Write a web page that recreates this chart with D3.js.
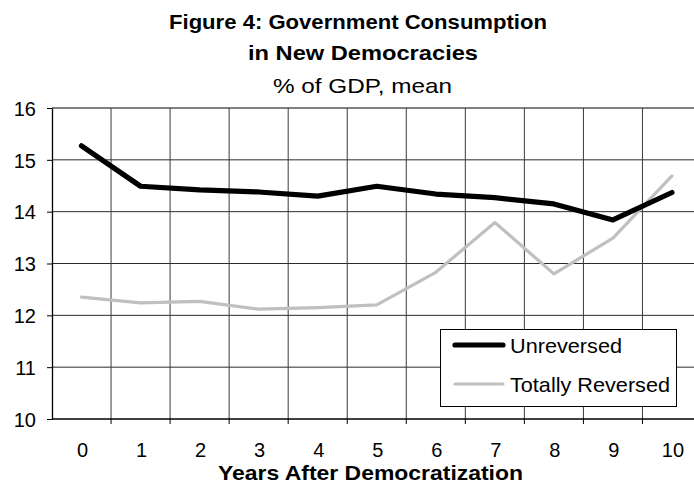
<!DOCTYPE html>
<html><head><meta charset="utf-8">
<script src="https://cdn.jsdelivr.net/npm/d3@7"></script>
<style>html,body{margin:0;padding:0;background:#fff;overflow:hidden}</style>
</head><body>
<svg id="c" width="694" height="486"></svg>
<script>
const years = [0,1,2,3,4,5,6,7,8,9,10];
const unreversed = [15.27,14.49,14.42,14.38,14.30,14.49,14.34,14.27,14.15,13.84,14.37];
const totallyReversed = [12.35,12.24,12.27,12.12,12.15,12.20,12.83,13.79,12.80,13.49,14.69];
const yTicks = [10,11,12,13,14,15,16];
const seriesNames = ["Unreversed","Totally Reversed"];

const svg = d3.select("#c");
const font = "'Liberation Sans', Arial, sans-serif";
const L = 52, R = 701.5, T = 108, B = 419;

const x = d3.scaleBand().domain(years).range([L, R]).padding(0);
const y = d3.scaleLinear().domain([10,16]).range([B, T]);

// horizontal gridlines
svg.append("g").selectAll("line").data(yTicks.filter(d=>d>10 && d<16)).join("line")
  .attr("x1", L).attr("x2", 694).attr("y1", d=>y(d)).attr("y2", d=>y(d))
  .attr("stroke", "#2a2a2a").attr("stroke-width", 1);
svg.append("line").attr("x1", L).attr("x2", 694).attr("y1", y(16)).attr("y2", y(16))
  .attr("stroke", "#808080").attr("stroke-width", 2);
// vertical gridlines at band edges
svg.append("g").selectAll("line").data(years.slice(1)).join("line")
  .attr("x1", d=>x(d)).attr("x2", d=>x(d)).attr("y1", T).attr("y2", B)
  .attr("stroke", "#3a3a3a").attr("stroke-width", 1);

// y axis
const yAxis = d3.axisLeft(y).tickValues(yTicks).tickSize(5).tickSizeOuter(0).tickFormat(d3.format("d"));
const gy = svg.append("g").attr("transform", `translate(${L},0)`).call(yAxis);
gy.select(".domain").attr("stroke", "#000").attr("stroke-width", 1.3);
gy.selectAll(".tick line").attr("stroke", "#000");
gy.selectAll(".tick text").attr("font-family", font).attr("font-size", 20).attr("fill", "#000")
  .attr("x", -16).attr("dy", "0.36em");

// x axis: ticks at band edges, labels at band centers
svg.append("line").attr("x1", L).attr("x2", 694).attr("y1", B).attr("y2", B).attr("stroke", "#000").attr("stroke-width", 1.3);
svg.append("g").selectAll("line").data(years.slice(1)).join("line")
  .attr("x1", d=>x(d)).attr("x2", d=>x(d)).attr("y1", B).attr("y2", B+5).attr("stroke", "#000");
svg.append("g").selectAll("text").data(years).join("text")
  .attr("x", d=>x(d)+x.bandwidth()/2+1).attr("y", 457)
  .attr("text-anchor", "middle").attr("font-family", font).attr("font-size", 20).attr("fill", "#000")
  .text(d=>d);

// lines
const line = d3.line().x((d,i)=>x(years[i])+x.bandwidth()/2).y(d=>y(d));
svg.append("path").datum(totallyReversed).attr("d", line).attr("fill","none")
  .attr("stroke", "#c0c0c0").attr("stroke-width", 3.2).attr("stroke-linejoin","round").attr("stroke-linecap","round");
svg.append("path").datum(unreversed).attr("d", line).attr("fill","none")
  .attr("stroke", "#000").attr("stroke-width", 5.2).attr("stroke-linejoin","round").attr("stroke-linecap","round");

// titles
function txt(str, xs, ys, size, bold, len){
  svg.append("text").attr("x", xs).attr("y", ys).attr("font-family", font)
    .attr("font-size", size).attr("font-weight", bold ? "bold" : "normal").attr("fill","#000")
    .attr("textLength", len).attr("lengthAdjust","spacingAndGlyphs").text(str);
}
txt("Figure 4: Government Consumption", 169, 29, 20, true, 378);
txt("in New Democracies", 248, 60, 20, true, 230);
txt("% of GDP, mean", 273, 93, 21, false, 179);
txt("Years After Democratization", 218, 480, 21, true, 305);

// legend
const lg = svg.append("g");
lg.append("rect").attr("x", 440.5).attr("y", 329.5).attr("width", 236).attr("height", 77)
  .attr("fill","#fff").attr("stroke","#000").attr("stroke-width",1);
const lstyles = [{c:"#000", w:5.2, len:112},{c:"#c0c0c0", w:3.2, len:160}];
seriesNames.forEach((n,i)=>{
  const yy = 345 + i*39;
  lg.append("line").attr("x1", 455).attr("x2", 503).attr("y1", yy).attr("y2", yy)
    .attr("stroke", lstyles[i].c).attr("stroke-width", lstyles[i].w).attr("stroke-linecap","round");
  lg.append("text").attr("x", 510).attr("y", yy+8).attr("font-family", font).attr("font-size", 21)
    .attr("textLength", lstyles[i].len).attr("lengthAdjust","spacingAndGlyphs").text(n);
});
</script>
</body></html>
